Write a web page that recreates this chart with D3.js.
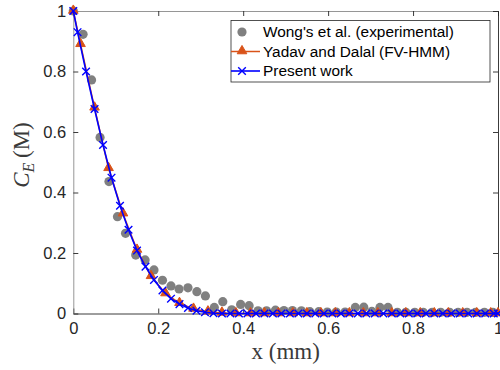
<!DOCTYPE html>
<html>
<head>
<meta charset="utf-8">
<script src="https://cdn.jsdelivr.net/npm/d3@7"></script>
<style>
  body { margin: 0; background: #fff; }
  svg { display: block; }
  .tick text { font-family: "Liberation Sans", Arial, sans-serif; font-size: 16.5px; fill: #262626; }
</style>
</head>
<body>
<div id="chart"></div>
<script>
// Wong's et al. (experimental)
const wongX = [0, 0.023, 0.043, 0.063, 0.084, 0.104, 0.123, 0.147, 0.169, 0.19, 0.21, 0.23, 0.249, 0.27, 0.291,
  0.311, 0.332, 0.352, 0.373, 0.394, 0.414, 0.435, 0.455, 0.476, 0.496, 0.516, 0.537, 0.557, 0.578, 0.598,
  0.619, 0.64, 0.664, 0.684, 0.703, 0.722, 0.741, 0.763, 0.783, 0.804, 0.824, 0.845, 0.865, 0.886, 0.906,
  0.927, 0.947, 0.968, 0.988];
const wongY = [1, 0.923, 0.772, 0.582, 0.436, 0.32, 0.265, 0.193, 0.177, 0.144, 0.11, 0.091, 0.081, 0.085, 0.072,
  0.058, 0.02, 0.039, 0.012, 0.03, 0.026, 0.009, 0.009, 0.011, 0.01, 0.01, 0.009, 0.006, 0.006, 0.005,
  0.005, 0.005, 0.02, 0.021, 0.007, 0.02, 0.02, 0.004, 0.004, 0.004, 0.004, 0.004, 0.004, 0.004, 0.004,
  0.004, 0.004, 0.004, 0.004];

// Yadav and Dalal (FV-HMM)
const yadavX = [0, 0.017, 0.05, 0.083, 0.117, 0.15, 0.183, 0.217, 0.25, 0.283, 0.317, 0.35, 0.383, 0.417,
  0.45, 0.483, 0.517, 0.55, 0.583, 0.617, 0.65, 0.683, 0.717, 0.75, 0.783, 0.817, 0.85, 0.883, 0.917, 0.95,
  0.983, 1];
const yadavY = [1, 0.89, 0.68, 0.48, 0.33, 0.21, 0.123, 0.066, 0.034, 0.015, 0.006, 0.002, 0, 0,
  0, 0, 0, 0, 0, 0, 0, 0, 0, 0, 0, 0, 0, 0, 0, 0,
  0, 0];

// Present work
const presentX = [0, 0.01, 0.03, 0.05, 0.07, 0.09, 0.11, 0.13, 0.15, 0.17, 0.19, 0.21, 0.23, 0.25, 0.27,
  0.29, 0.31, 0.33, 0.35, 0.37, 0.39, 0.41, 0.43, 0.45, 0.47, 0.49, 0.51, 0.53, 0.55, 0.57, 0.59, 0.61,
  0.63, 0.65, 0.67, 0.69, 0.71, 0.73, 0.75, 0.77, 0.79, 0.81, 0.83, 0.85, 0.87, 0.89, 0.91, 0.93, 0.95,
  0.97, 0.99, 1];
const presentY = [1, 0.93, 0.8, 0.676, 0.557, 0.449, 0.356, 0.277, 0.208, 0.155, 0.111, 0.076, 0.049, 0.031, 0.018,
  0.009, 0.004, 0.001, 0, 0, 0, 0, 0, 0, 0, 0, 0, 0, 0, 0, 0, 0,
  0, 0, 0, 0, 0, 0, 0, 0, 0, 0, 0, 0, 0, 0, 0, 0, 0,
  0, 0, 0];

const xTicks = [0, 0.2, 0.4, 0.6, 0.8, 1];
const yTicks = [0, 0.2, 0.4, 0.6, 0.8, 1];
const legendLabels = ["Wong's et al. (experimental)", "Yadav and Dalal (FV-HMM)", "Present work"];

const width = 500, height = 370;
const margin = {top: 11, right: 2, bottom: 56.5, left: 73.3};
const iw = width - margin.left - margin.right,
      ih = height - margin.top - margin.bottom;

const orange = "#D95319", blue = "#0000FF", grey = "#808080";

const svg = d3.select("#chart").append("svg")
  .attr("width", width)
  .attr("height", height);

const g = svg.append("g")
  .attr("transform", `translate(${margin.left},${margin.top})`);

const x = d3.scaleLinear().domain([0, 1]).range([0, iw]);
const y = d3.scaleLinear().domain([0, 1]).range([ih, 0]);

const fmt = d => d === 0 ? "0" : d === 1 ? "1" : d3.format(".1f")(d);

// axes, ticks inward like matlab
const axBottom = g.append("g").attr("transform", `translate(0,${ih})`)
  .call(d3.axisBottom(x).tickValues(xTicks).tickFormat(fmt).tickSizeInner(-5).tickSizeOuter(0).tickPadding(9));
const axLeft = g.append("g")
  .call(d3.axisLeft(y).tickValues(yTicks).tickFormat(fmt).tickSizeInner(-5).tickSizeOuter(0).tickPadding(7));
const axTop = g.append("g")
  .call(d3.axisTop(x).tickValues(xTicks).tickFormat("").tickSizeInner(-5).tickSizeOuter(0));
const axRight = g.append("g").attr("transform", `translate(${iw},0)`)
  .call(d3.axisRight(y).tickValues(yTicks).tickFormat("").tickSizeInner(-5).tickSizeOuter(0));

[axBottom, axLeft, axTop, axRight].forEach(a => {
  a.select(".domain").attr("stroke", "#262626").attr("stroke-width", 0.9);
  a.selectAll(".tick line").attr("stroke", "#262626").attr("stroke-width", 0.9);
});
axLeft.select(".domain").attr("stroke", "#8a8a8a");
axTop.select(".domain").attr("stroke", "#8a8a8a");
axBottom.selectAll(".tick text").attr("dy", "0.71em");

// Wong circles
const wong = wongX.map((v, i) => ({x: v, y: wongY[i]}));
g.append("g").selectAll("circle")
  .data(wong)
  .enter().append("circle")
  .attr("cx", d => x(d.x))
  .attr("cy", d => y(d.y))
  .attr("r", 4.6)
  .attr("fill", grey);

// Yadav line + triangles
const yadav = yadavX.map((v, i) => ({x: v, y: yadavY[i]}));
const line = d3.line().x(d => x(d.x)).y(d => y(d.y));
g.append("path")
  .datum(yadav)
  .attr("d", line)
  .attr("fill", "none")
  .attr("stroke", orange)
  .attr("stroke-width", 1.5);
const tri = d3.symbol().type(d3.symbolTriangle).size(40);
g.append("g").selectAll("path")
  .data(yadav)
  .enter().append("path")
  .attr("d", tri)
  .attr("transform", d => `translate(${x(d.x)},${y(d.y) - 0.5})`)
  .attr("fill", orange)
  .attr("stroke", orange)
  .attr("stroke-width", 1);

// Present work line + x markers
const present = presentX.map((v, i) => ({x: v, y: presentY[i]}));
g.append("path")
  .datum(present)
  .attr("d", line)
  .attr("fill", "none")
  .attr("stroke", blue)
  .attr("stroke-width", 1.6);
const s = 3.8;
g.append("g").selectAll("path")
  .data(present)
  .enter().append("path")
  .attr("d", d => {
    const cx = x(d.x), cy = y(d.y);
    return `M${cx - s},${cy - s}L${cx + s},${cy + s}M${cx - s},${cy + s}L${cx + s},${cy - s}`;
  })
  .attr("stroke", blue)
  .attr("stroke-width", 1.4)
  .attr("fill", "none");

// legend
const lg = svg.append("g").attr("transform", "translate(231,20.5)");
lg.append("rect")
  .attr("width", 259).attr("height", 61.5)
  .attr("fill", "#fff")
  .attr("stroke", "#262626")
  .attr("stroke-width", 0.8);
const rowY = [11.5, 31, 50.5];
legendLabels.forEach((lab, i) => {
  const ry = rowY[i];
  const row = lg.append("g").attr("transform", `translate(0,${ry})`);
  if (i === 0) {
    row.append("circle").attr("cx", 11).attr("cy", 0).attr("r", 4.6).attr("fill", grey);
  } else if (i === 1) {
    row.append("line").attr("x1", 0).attr("x2", 29).attr("stroke", orange).attr("stroke-width", 1.5);
    row.append("path").attr("d", tri).attr("transform", "translate(11,-0.5)")
      .attr("fill", orange).attr("stroke", orange);
  } else {
    row.append("line").attr("x1", 0).attr("x2", 29).attr("stroke", blue).attr("stroke-width", 1.6);
    row.append("path")
      .attr("d", `M${11 - s},${-s}L${11 + s},${s}M${11 - s},${s}L${11 + s},${-s}`)
      .attr("stroke", blue).attr("stroke-width", 1.4);
  }
  row.append("text")
    .attr("x", 32)
    .attr("dy", "0.35em")
    .attr("font-family", "'Liberation Sans', Arial, sans-serif")
    .attr("font-size", "15.4px")
    .attr("fill", "#000")
    .text(lab);
});

// axis labels
svg.append("text")
  .attr("x", margin.left + iw / 2)
  .attr("y", 359)
  .attr("text-anchor", "middle")
  .attr("font-family", "'Liberation Serif', 'Times New Roman', serif")
  .attr("font-size", "23px")
  .attr("fill", "#3a3a3a")
  .text("x (mm)");

const yl = svg.append("text")
  .attr("transform", "translate(29,155) rotate(-90)")
  .attr("text-anchor", "middle")
  .attr("font-family", "'Liberation Serif', 'Times New Roman', serif")
  .attr("font-size", "23px")
  .attr("fill", "#3a3a3a");
yl.append("tspan").attr("font-style", "italic").text("C");
yl.append("tspan").attr("font-style", "italic").attr("font-size", "16px").attr("dy", 5).text("E");
yl.append("tspan").attr("dy", -5).text("\u2009(M)");
</script>
</body>
</html>
